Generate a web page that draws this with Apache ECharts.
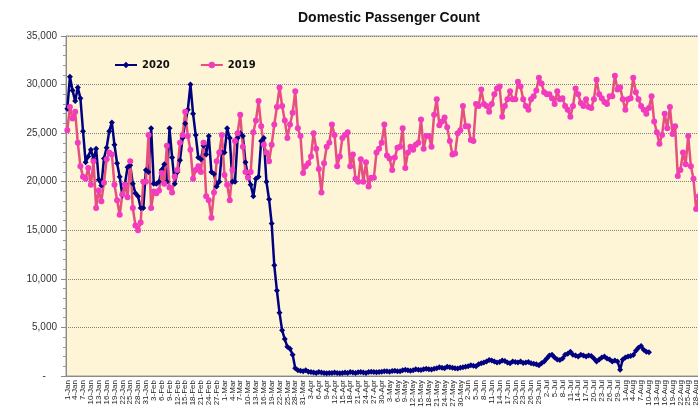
<!DOCTYPE html>
<html>
<head>
<meta charset="utf-8">
<title>Domestic Passenger Count</title>
<script src="https://cdn.jsdelivr.net/npm/echarts@6/dist/echarts.min.js"></script>
<style>
  html, body { margin: 0; padding: 0; background: #fff; }
  #chart { width: 698px; height: 409px; }
</style>
</head>
<body>
<div id="chart"></div>
<script>
// x axis: daily dates, labels like "1-Jan"
var months = ['Jan', 'Feb', 'Mar', 'Apr', 'May', 'Jun', 'Jul', 'Aug', 'Sep', 'Oct', 'Nov', 'Dec'];
var monthDays = [31, 29, 31, 30, 31, 30, 31, 31, 30, 31, 30, 31];

// 2020 daily counts, 1-Jan .. 10-Aug
var pax2020 = [
  // Jan
  27500, 30800, 29400, 28300, 29700, 28600, 25200, 22000, 22600, 23300, 22300, 23400, 20200, 19600, 22400, 23500,
  25200, 26100, 23800, 21900, 20500, 18600, 19800, 21500, 21700, 19800, 18800, 18500, 17300, 17300, 21200,
  // Feb
  21000, 25500, 19800, 19800, 20000, 21200, 21800, 20000, 25500, 22500, 19800, 21000, 22200, 24500, 26000,
  27400, 30000, 27000, 24800, 22500, 22300, 23700, 22800, 24700, 21000, 20800, 19500, 20000, 23000,
  // Mar
  23000, 25500, 24500, 20000, 20000, 24500, 25000, 24700, 22000, 20500, 19700, 18500, 20300, 20500, 24200, 24500,
  20000, 18200, 15700, 11400, 8800, 6500, 4700, 3800, 3000, 2800, 2200, 800, 600, 550, 500,
  // Apr
  600, 450, 400, 350, 300, 400, 350, 300, 280, 320, 300, 350, 300, 280, 320,
  350, 300, 400, 350, 300, 380, 420, 350, 300, 400, 450, 400, 380, 420, 450,
  // May
  480, 500, 450, 520, 550, 500, 480, 600, 650, 580, 550, 600, 700, 650, 620, 700,
  750, 700, 680, 750, 800, 900, 850, 800, 950, 900, 850, 800, 780, 850, 900,
  // Jun
  950, 1000, 1100, 1050, 1000, 1200, 1300, 1400, 1500, 1650, 1600, 1500, 1400, 1450, 1600,
  1550, 1400, 1300, 1500, 1450, 1400, 1500, 1350, 1400, 1450, 1300, 1250, 1200, 1100, 1300,
  // Jul
  1500, 1800, 2100, 2200, 1900, 1700, 1650, 1800, 2200, 2300, 2500, 2200, 2100, 2000, 2200, 2100,
  2000, 2100, 2050, 1800, 1500, 1700, 1900, 2000, 1800, 1700, 1500, 1600, 1500, 650, 1700,
  // Aug
  1900, 2000, 2050, 2150, 2600, 2900, 3100, 2700, 2500, 2450
];

// 2019 daily counts on the same day-of-year positions
var pax2019 = [
  25300, 27700, 26500, 27200, 24000, 21600, 20500, 20300, 21400, 19700, 22100, 17300, 19100, 18000, 19900, 22300,
  23000, 22800, 19700, 18100, 16600, 18700, 19700, 18400, 22100, 17300, 15500, 15000, 15800, 20000, 20000,
  24800, 17300, 19000, 18800, 19100, 20900, 19800, 23700, 19400, 18900, 20500, 21200, 24000, 24800, 27200,
  24700, 23300, 20300, 21200, 21600, 21000, 24000, 18500, 18100, 16300, 18900, 22100, 23000, 24800,
  20700, 19700, 18100, 21200, 24200, 25000, 26900, 23600, 21000, 20400, 21000, 25100, 26300, 28300, 25700,
  23800, 23000, 22100, 23800, 25900, 27700, 29700, 27800, 26300, 24500, 25900, 27100, 29300, 25500, 24700,
  20900, 21600, 21900, 22600, 25000, 23400, 21300, 18900, 21900, 23600, 24000, 25900, 24800, 21600, 22600,
  24500, 24800, 25100, 21600, 22800, 20300, 20000, 22300, 20000, 22000, 19500, 20400, 20400, 23000, 23400,
  24000, 25900, 22700, 22400, 21200, 22500, 23500, 23600, 25500, 21400, 23000, 23600, 23300, 23800, 24000,
  26400, 23400, 24700, 24700, 23600, 26900, 28500, 25800, 26200, 26600, 25600, 24200, 22800, 22900, 25000,
  25300, 27800, 25700, 25700, 24300, 24200, 28000, 27800, 29500, 28000, 27800, 27200, 28000, 29000, 29600,
  29800, 26700, 27800, 28500, 29300, 28500, 28500, 30300, 29800, 28500, 27800, 27400, 28500, 28800, 29400,
  30700, 30100, 29200, 29000, 29000, 28600, 28000, 29300, 28500, 28600, 27800, 27400, 26700, 27800, 29600,
  29000, 28100, 27800, 28500, 27700, 27600, 28500, 30500, 29000, 28600, 28200, 28000, 28800, 28800, 30900,
  29500, 29700, 28500, 27400, 28500, 28600, 30700, 29200, 28500, 27800, 27400, 27000, 27600, 28800, 26200,
  25100, 23900, 24800, 27000, 25500, 27700, 24900, 25700, 20600, 21200, 23000, 21800, 24700, 21600, 20300,
  17200, 18500, 21000
];

var yTicks = [0, 5000, 10000, 15000, 20000, 25000, 30000, 35000];

var days = [];
months.forEach(function (m, i) {
  for (var d = 1; d <= monthDays[i]; d++) {
    days.push(d + '-' + m);
  }
});

var chart = echarts.init(document.getElementById('chart'));
chart.setOption({
  animation: false,
  backgroundColor: '#fff',
  title: {
    text: 'Domestic Passenger Count',
    left: 384,
    top: 6,
    textAlign: 'center',
    textStyle: { fontFamily: 'Liberation Sans, Arial', fontWeight: 'bold', fontSize: 14, color: '#111' }
  },
  legend: {
    left: 109,
    top: 55,
    itemWidth: 22,
    itemHeight: 8,
    itemGap: 30,
    textStyle: { fontFamily: 'DejaVu Sans', fontWeight: 'bold', fontSize: 10, color: '#111' },
    data: ['2020', '2019']
  },
  grid: {
    left: 66,
    top: 36,
    width: days.length * 2.62,
    height: 340,
    outerBoundsMode: 'none',
    containLabel: false,
    show: true,
    backgroundColor: '#FDF5D6',
    borderColor: '#9a9a9a',
    borderWidth: 1
  },
  xAxis: {
    type: 'category',
    data: days,
    axisLine: { lineStyle: { color: '#8a8a8a' } },
    axisTick: { interval: 2, length: 4, lineStyle: { color: '#8a8a8a' } },
    axisLabel: {
      interval: 2,
      rotate: 90,
      margin: 4,
      fontSize: 8,
      fontFamily: 'Liberation Sans, Arial',
      color: '#222'
    }
  },
  yAxis: {
    type: 'value',
    min: yTicks[0],
    max: yTicks[yTicks.length - 1],
    interval: 5000,
    axisLine: { show: true, lineStyle: { color: '#8a8a8a' } },
    axisTick: { show: true, length: 5, lineStyle: { color: '#8a8a8a' } },
    minorTick: { show: true, splitNumber: 5, length: 3, lineStyle: { color: '#9a9a9a' } },
    splitLine: { lineStyle: { color: '#808080', type: 'dotted', width: 1 } },
    axisLabel: {
      margin: 9,
      fontSize: 10,
      fontFamily: 'Liberation Sans, Arial',
      color: '#333',
      formatter: function (v) {
        return v === 0 ? '-    ' : v.toLocaleString('en-US');
      }
    }
  },
  series: [
    {
      name: '2020',
      type: 'line',
      data: pax2020,
      symbol: 'diamond',
      symbolSize: 6,
      showAllSymbol: true,
      itemStyle: { color: '#000080' },
      lineStyle: { color: '#000080', width: 2.5 }
    },
    {
      name: '2019',
      type: 'line',
      data: pax2019,
      symbol: 'circle',
      symbolSize: 6,
      showAllSymbol: true,
      itemStyle: { color: '#F23BBE' },
      lineStyle: { color: '#E5507E', width: 2.5 }
    }
  ]
});
</script>
</body>
</html>
